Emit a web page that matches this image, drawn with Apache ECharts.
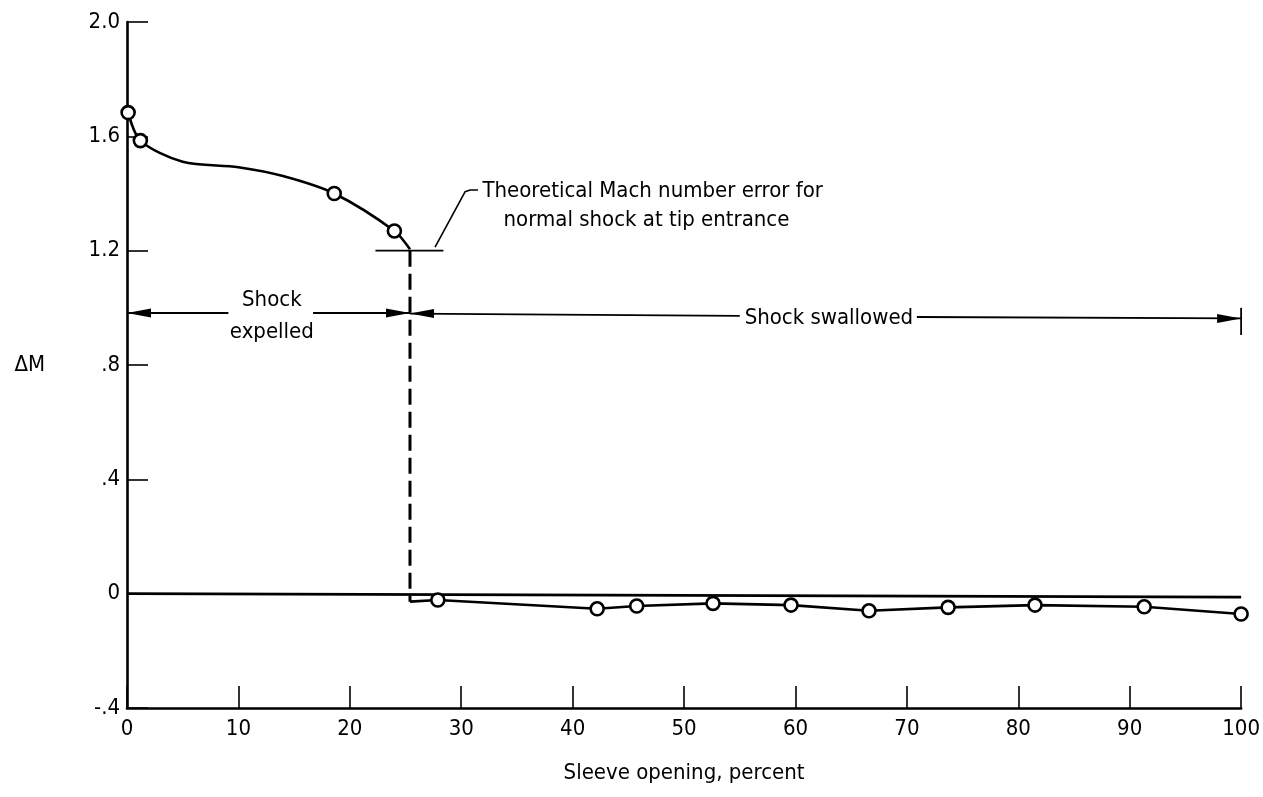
<!DOCTYPE html>
<html>
<head>
<meta charset="utf-8">
<script src="https://cdn.jsdelivr.net/npm/echarts@6/dist/echarts.min.js"></script>
<style>
html,body{margin:0;padding:0;background:#fff;}
#chart{width:1263px;height:797px;}
</style>
</head>
<body>
<div id="chart"></div>
<script>
// ---- data ----
const upperCurve = [[0.1,1.683],[1.2,1.585],[5.0,1.511],[10.0,1.492],[14.0,1.461],[18.6,1.40],[24.0,1.269],[25.4,1.205]];
const upperPoints = [[0.1,1.683],[1.2,1.585],[18.6,1.40],[24.0,1.269]];
const lowerPoints = [[27.9,-0.022],[42.2,-0.053],[45.75,-0.043],[52.6,-0.034],[59.6,-0.040],[66.6,-0.060],[73.7,-0.048],[81.5,-0.040],[91.3,-0.046],[100,-0.071]];
const lowerStart = [[25.4,-0.028]];
const zeroLine = [[0,0],[100,-0.012]];
const shockJump = [[25.4,1.2],[25.4,-0.028]];
const theoryMark = [[22.3,1.2],[28.4,1.2]];
const leader = [[27.65,1.212],[30.34,1.406],[30.8,1.412],[31.5,1.412]];
const arrowShafts = [
  [[0,0.982],[9.1,0.982]],
  [[16.7,0.982],[25.4,0.982]],
  [[25.4,0.980],[55.0,0.972]],
  [[70.9,0.968],[100,0.963]]
];
const arrowHeads = [[0,0.982,-1],[25.4,0.982,1],[25.4,0.980,-1],[100,0.963,1]];
const endBar = [[100,1.0],[100,0.905]];
const annotations = [
  {x:31.9, y:1.409, text:'Theoretical Mach number error for', align:'left'},
  {x:33.8, y:1.307, text:'normal shock at tip entrance', align:'left'},
  {x:13.0, y:1.027, text:'Shock', align:'center'},
  {x:13.0, y:0.915, text:'expelled', align:'center'},
  {x:63.0, y:0.963, text:'Shock swallowed', align:'center'}
];
const xName = 'Sleeve opening, percent';
const yName = 'ΔM';

const FONT = "'DejaVu Sans Condensed', 'DejaVu Sans', sans-serif";
const FS = 22;
const INK = '#000';

function seg(data, extra) {
  return Object.assign({
    type: 'line', data: data, showSymbol: false, symbol: 'none',
    lineStyle: {color: INK, width: 2.6}, silent: true, z: 3
  }, extra || {});
}

const series = [
  seg(zeroLine, {lineStyle:{color:INK, width:2.6}}),
  seg(upperCurve, {smooth: 0.3}),
  seg(theoryMark, {lineStyle:{color:INK, width:1.8}}),
  seg(leader, {lineStyle:{color:INK, width:1.6}}),
  seg(shockJump, {lineStyle:{color:INK, width:3, type:[16,7]}}),
  seg(lowerStart.concat(lowerPoints)),
  seg(endBar, {lineStyle:{color:INK, width:1.8}})
];
arrowShafts.forEach(s => series.push(seg(s, {lineStyle:{color:INK, width:1.8}})));
series.push({
  type: 'custom', silent: true, z: 4,
  data: arrowHeads,
  encode: {x: 0, y: 1},
  renderItem: function (params, api) {
    const p = api.coord([api.value(0), api.value(1)]);
    const d = api.value(2);
    return {
      type: 'polygon',
      shape: {points: [[p[0], p[1]], [p[0] - d * 24, p[1] - 4.5], [p[0] - d * 24, p[1] + 4.5]]},
      style: {fill: INK}
    };
  }
});
series.push({
  type: 'scatter', silent: true, z: 6,
  data: upperPoints.concat(lowerPoints),
  symbol: 'circle', symbolSize: 13,
  itemStyle: {color: '#fff', borderColor: INK, borderWidth: 2.6, opacity: 1}
});
series.push({
  type: 'scatter', silent: true, z: 7,
  symbolSize: 1, itemStyle: {color: 'rgba(0,0,0,0)', opacity: 1},
  data: annotations.map(a => ({
    value: [a.x, a.y],
    label: {show: true, position: 'inside', formatter: a.text, align: a.align, verticalAlign: 'middle',
            color: INK, fontFamily: FONT, fontSize: FS, textBorderWidth: 0}
  }))
});

const chart = echarts.init(document.getElementById('chart'), null, {renderer: 'canvas'});
chart.setOption({
  animation: false,
  backgroundColor: '#fff',
  grid: {left: 127, right: 20, top: 22, bottom: 89, containLabel: false},
  xAxis: {
    type: 'value', min: 0, max: 100, interval: 10,
    name: xName, nameLocation: 'middle', nameGap: 54,
    nameTextStyle: {color: INK, fontFamily: FONT, fontSize: FS},
    axisLine: {show: true, onZero: false, lineStyle: {color: INK, width: 2.6}},
    axisTick: {show: true, inside: true, length: 22, lineStyle: {color: INK, width: 1.6}},
    axisLabel: {color: INK, fontFamily: FONT, fontSize: FS, margin: 10},
    splitLine: {show: false}
  },
  yAxis: {
    type: 'value', min: -0.4, max: 2.0, interval: 0.4,
    name: yName, nameLocation: 'middle', nameRotate: 0, nameGap: 82,
    nameTextStyle: {color: INK, fontFamily: FONT, fontSize: FS, align: 'right', verticalAlign: 'middle'},
    axisLine: {show: true, onZero: false, lineStyle: {color: INK, width: 2.6}},
    axisTick: {show: true, inside: true, length: 21, lineStyle: {color: INK, width: 1.6}},
    axisLabel: {
      color: INK, fontFamily: FONT, fontSize: FS, margin: 7,
      formatter: function (v) {
        const r = Math.round(v * 10) / 10;
        if (r === 0) return '0';
        let s = r.toFixed(1);
        if (Math.abs(r) < 1) s = s.replace('0.', '.');
        return s;
      }
    },
    splitLine: {show: false}
  },
  series: series
});
</script>
</body>
</html>
